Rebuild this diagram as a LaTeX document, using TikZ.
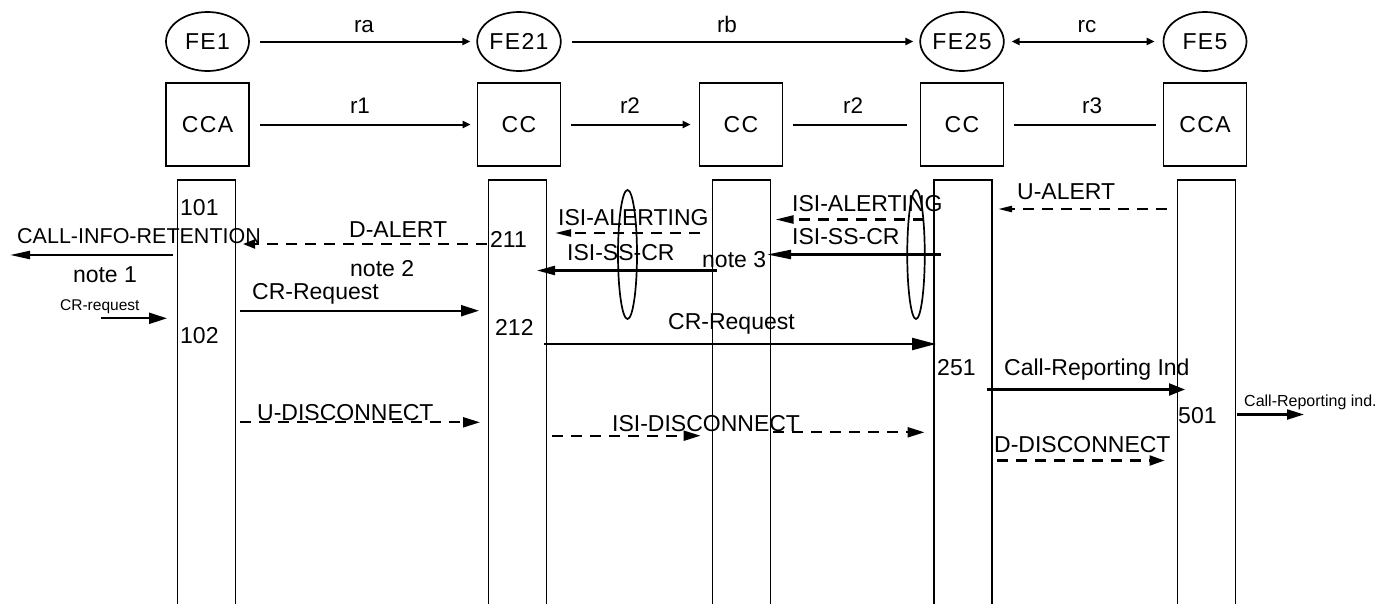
\documentclass[tikz,border=0pt]{standalone}
\usepackage{fontspec}
\setmainfont{Liberation Sans}
\newfontfamily\hdrfont[LetterSpace=6]{Liberation Sans}
\usetikzlibrary{arrows.meta,shapes.geometric}
\begin{document}
\begin{tikzpicture}[x=1pt,y=-1pt,
  fe/.style={draw, ellipse, line width=1.7pt, minimum width=83pt, minimum height=59pt, inner sep=0pt, font=\hdrfont\fontsize{23}{25}\selectfont},
  fbox/.style={draw, rectangle, line width=1.7pt, minimum width=83pt, minimum height=83pt, inner sep=0pt, font=\hdrfont\fontsize{23}{25}\selectfont},
  life/.style={draw, rectangle, line width=1.7pt, minimum width=58pt, minimum height=431pt, inner sep=0pt, anchor=north},
  lbl/.style={anchor=base west, inner sep=0pt, font=\fontsize{23}{26}\selectfont},
  clbl/.style={anchor=base, inner sep=0pt, font=\fontsize{23}{26}\selectfont},
  rlbl/.style={anchor=base, inner sep=0pt, font=\fontsize{22.5}{24}\selectfont},
  slbl/.style={anchor=base west, inner sep=0pt, font=\fontsize{15.5}{18}\selectfont},
  hdr/.style={line width=2pt, -{Triangle[length=8pt,width=7pt]}},
  hline/.style={line width=2pt},
  msg/.style={line width=2.2pt, -{Triangle[length=16pt,width=10pt]}},
  bigmsg/.style={line width=2.2pt, -{Triangle[length=24pt,width=12pt]}},
  dmsg/.style={line width=2.2pt, dash pattern=on 11pt off 8pt, -{Triangle[length=15pt,width=9pt]}},
  loop/.style={draw, ellipse, line width=1.7pt, inner sep=0pt}
]
\useasboundingbox (0,0) rectangle (1378,603);

% functional entities
\node[fe] (FE1) at (207.5,41.5) {FE1};
\node[fe] (FE21) at (519,41.5) {FE21};
\node[fe] (FE25) at (962,41.5) {FE25};
\node[fe] (FE5) at (1205,41.5) {FE5};

\draw[hdr, shorten <=10pt, shorten >=6pt] (FE1) -- (FE21);
\draw[hdr, shorten <=10pt, shorten >=6pt] (FE21) -- (FE25);
\draw[line width=2pt, {Triangle[length=8pt,width=7pt]}-{Triangle[length=8pt,width=7pt]}, shorten <=7pt, shorten >=8pt] (FE25) -- (FE5);
\node[rlbl] (ra) at (364,32) {ra};
\node[rlbl] (rb) at (727,32) {rb};
\node[rlbl] (rc) at (1087,32) {rc};

% control boxes
\node[fbox] (B1) at (207.5,124.5) {CCA};
\node[fbox] (B2) at (519,124.5) {CC};
\node[fbox] (B3) at (741,124.5) {CC};
\node[fbox] (B4) at (962,124.5) {CC};
\node[fbox] (B5) at (1205,124.5) {CCA};

\draw[hdr, shorten <=10pt, shorten >=6pt] (B1) -- (B2);
\draw[hdr, shorten <=10pt, shorten >=8pt] (B2) -- (B3);
\draw[hline, shorten <=10pt, shorten >=12.5pt] (B3) -- (B4);
\draw[hline, shorten <=10pt, shorten >=7pt] (B4) -- (B5);
\node[rlbl] (r1) at (360,113) {r1};
\node[rlbl] (r2a) at (630,113) {r2};
\node[rlbl] (r2b) at (853,113) {r2};
\node[rlbl] (r3) at (1092,113) {r3};

% lifelines
\node[life] (L1) at (206.5,179) {};
\node[life] (L2) at (517.6,179) {};
\node[life] (L3) at (741.6,179) {};
\node[life] (L4) at (963,179) {};
\node[life] (L5) at (1206.5,179) {};

% loop ellipses
\node[loop, minimum width=19pt, minimum height=129pt] (E1) at (627.5,254.5) {};
\node[loop, minimum width=17.5pt, minimum height=129pt] (E2) at (916,254.5) {};

% message end points
\coordinate (ciS) at (173,255);   \coordinate (ciE) at (10,255);
\coordinate (daS) at (487,244);   \coordinate (daE) at (243,244);
\coordinate (cr1S) at (240,310.7); \coordinate (cr1E) at (479,310.7);
\coordinate (crsS) at (101,318.3); \coordinate (crsE) at (167,318.3);
\coordinate (ialS) at (700,233);  \coordinate (ialE) at (555,233);
\coordinate (issS) at (716.5,270.5); \coordinate (issE) at (537,270.5);
\coordinate (iarS) at (923.5,219.5); \coordinate (iarE) at (775.5,219.5);
\coordinate (isrS) at (941,254.5); \coordinate (isrE) at (767,254.5);
\coordinate (cr2S) at (544,344);  \coordinate (cr2E) at (936,344);
\coordinate (uaS) at (1167,209);  \coordinate (uaE) at (998,209);
\coordinate (cpS) at (986.5,389.5); \coordinate (cpE) at (1185,389.5);
\coordinate (cpsS) at (1237,414.5); \coordinate (cpsE) at (1304,414.5);
\coordinate (ddS) at (997,460.5); \coordinate (ddE) at (1164.5,460.5);
\coordinate (udS) at (240,422.3); \coordinate (udE) at (480,422.3);
\coordinate (id1S) at (552,435.7); \coordinate (id1E) at (700.5,435.7);
\coordinate (id2S) at (773,432.3); \coordinate (id2E) at (924.5,432.3);

% messages
\draw[msg, -{Triangle[length=20pt,width=8pt]}] (ciS) -- (ciE);
\draw[dmsg, -{Triangle[length=12pt,width=9pt]}] (daS) -- (daE);
\draw[msg, -{Triangle[length=18pt,width=11pt]}] (cr1S) -- (cr1E);
\draw[msg, -{Triangle[length=18pt,width=11pt]}] (crsS) -- (crsE);
\draw[dmsg, -{Triangle[length=16pt,width=7pt]}] (ialS) -- (ialE);
\draw[msg, -{Triangle[length=18pt,width=9pt]}] (issS) -- (issE);
\draw[dmsg, -{Triangle[length=18pt,width=8pt]}] (iarS) -- (iarE);
\draw[msg, -{Triangle[length=24pt,width=9pt]}] (isrS) -- (isrE);
\draw[bigmsg] (cr2S) -- (cr2E);
\draw[dmsg, -{Triangle[length=14pt,width=6pt]}] (uaS) -- (uaE);
\draw[msg, -{Triangle[length=16pt,width=12pt]}] (cpS) -- (cpE);
\draw[msg, -{Triangle[length=17pt,width=10pt]}] (cpsS) -- (cpsE);
\draw[dmsg, -{Triangle[length=15pt,width=10pt]}] (ddS) -- (ddE);
\draw[dmsg, -{Triangle[length=17pt,width=10pt]}] (udS) -- (udE);
\draw[dmsg, -{Triangle[length=17pt,width=10pt]}] (id1S) -- (id1E);
\draw[dmsg, -{Triangle[length=17pt,width=10pt]}] (id2S) -- (id2E);

% labels
\node[lbl] (t101) at (180,215) {101};
\node[lbl, font=\fontsize{21.5}{24}\selectfont] (tcir) at (17,243) {CALL-INFO-RETENTION};
\node[clbl] (tn1) at (105,282) {note 1};
\node[lbl] (tda) at (349,237) {D-ALERT};
\node[lbl] (t211) at (490,247) {211};
\node[lbl] (tn2) at (350,276) {note 2};
\node[lbl] (tcr1) at (252,299) {CR-Request};
\node[slbl] (tcrs) at (60,310) {CR-request};
\node[lbl] (t102) at (180,343) {102};
\node[lbl] (t212) at (495,335) {212};
\node[lbl] (tial) at (558,225) {ISI-ALERTING};
\node[lbl] (tisl) at (567,260) {ISI-SS-CR};
\node[lbl] (tn3) at (702,267) {note 3};
\node[lbl] (tiar) at (792,211) {ISI-ALERTING};
\node[lbl] (tisr) at (792,244) {ISI-SS-CR};
\node[lbl] (tcr2) at (668,329) {CR-Request};
\node[lbl] (t251) at (937,375) {251};
\node[lbl] (tua) at (1017,199) {U-ALERT};
\node[lbl] (tcp) at (1004,375) {Call-Reporting Ind};
\node[lbl] (t501) at (1178,423) {501};
\node[slbl, font=\fontsize{16}{18}\selectfont] (tcps) at (1244,406) {Call-Reporting ind.};
\node[lbl] (tdd) at (994,452) {D-DISCONNECT};
\node[lbl] (tud) at (257,420) {U-DISCONNECT};
\node[lbl] (tid) at (612,431) {ISI-DISCONNECT};
\end{tikzpicture}
\end{document}
